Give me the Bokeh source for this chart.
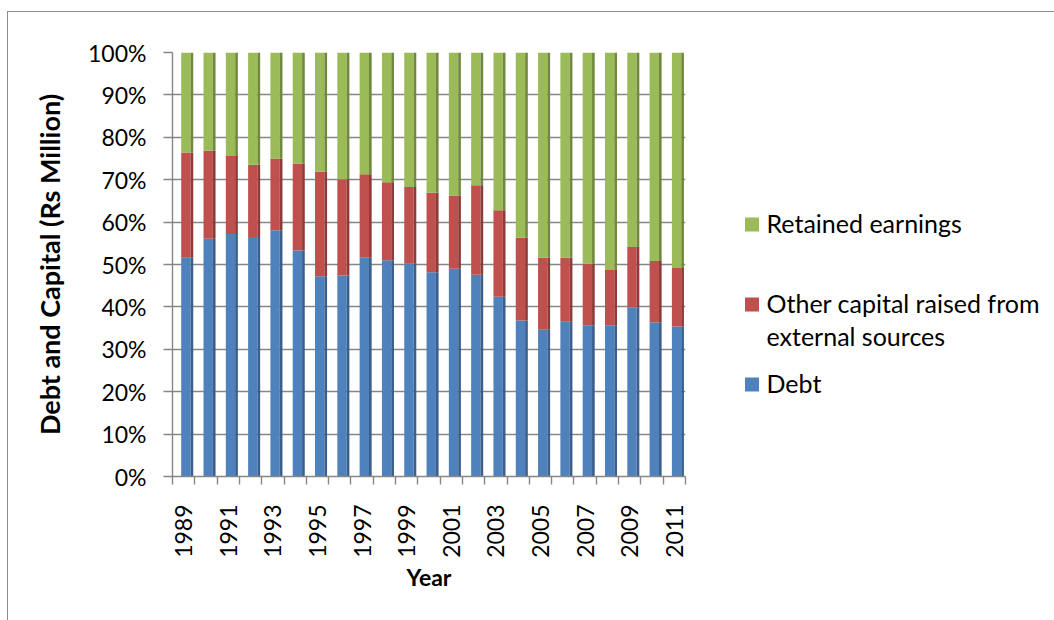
from math import pi
from bokeh.plotting import figure
from bokeh.layouts import row
from bokeh.models import Range1d, FixedTicker, PrintfTickFormatter, ColumnDataSource
from bokeh.transform import dodge
from bokeh.core.properties import value
from bokeh.embed import file_html
from bokeh.resources import INLINE

# ---------------- data (shares of total, %) ----------------
years = [1989, 1990, 1991, 1992, 1993, 1994, 1995, 1996, 1997, 1998, 1999, 2000,
         2001, 2002, 2003, 2004, 2005, 2006, 2007, 2008, 2009, 2010, 2011]
debt = [51.6, 56.1, 57.2, 56.5, 58.1, 53.3, 47.2, 47.4, 51.6, 51.0, 50.2, 48.2,
        49.0, 47.6, 42.4, 36.8, 34.6, 36.5, 35.7, 35.7, 39.9, 36.4, 35.4]
other_capital = [24.8, 20.7, 18.4, 17.0, 16.9, 20.5, 24.7, 22.7, 19.7, 18.4, 18.1, 18.7,
                 17.3, 21.1, 20.4, 19.5, 17.0, 15.1, 14.5, 13.0, 14.2, 14.4, 13.8]
retained = [23.6, 23.2, 24.4, 26.5, 25.0, 26.2, 28.1, 29.9, 28.7, 30.6, 31.7, 33.1,
            33.7, 31.3, 37.2, 43.7, 48.4, 48.4, 49.8, 51.3, 45.9, 49.2, 50.8]
series_names = ["Debt", "Other capital raised from\nexternal sources", "Retained earnings"]
y_ticks = [0, 10, 20, 30, 40, 50, 60, 70, 80, 90, 100]
label_years = [y for y in years if y % 2 == 1]

FONT = "Lato"
FS = "23px"
GRID = "#868686"
front_colors = ["#4F81BD", "#C0504D", "#9BBB59"]
side_colors = ["#3A5F8C", "#8E3A38", "#71893F"]

src = ColumnDataSource(dict(year=years, debt=debt, other=other_capital, retained=retained))
stack = ["debt", "other", "retained"]

TOP, BOTTOM = 40, 144

p = figure(width=692, height=608,
           x_range=Range1d(years[0] - 0.5, years[-1] + 0.5),
           y_range=Range1d(0, 100),
           output_backend="svg", toolbar_location=None,
           min_border_left=164, min_border_right=15,
           min_border_top=TOP, min_border_bottom=BOTTOM)
p.outline_line_color = None
p.background_fill_color = "white"
p.border_fill_color = "white"

# bars: front faces and darker side faces (pseudo-3D look)
p.vbar_stack(stack, x=dodge("year", 0.10, range=p.x_range), width=0.42,
             color=front_colors, line_color=None, source=src)
p.vbar_stack(stack, x=dodge("year", 0.37, range=p.x_range), width=0.12,
             color=side_colors, line_color=None, source=src)

# grid
p.xgrid.visible = False
p.ygrid.ticker = FixedTicker(ticks=y_ticks)
p.ygrid.grid_line_color = GRID
p.ygrid.grid_line_width = 1.4
p.ygrid.level = "underlay"

# y axis
ya = p.yaxis[0]
ya.ticker = FixedTicker(ticks=y_ticks)
ya.formatter = PrintfTickFormatter(format="%d%%")
ya.axis_line_color = GRID
ya.axis_line_width = 1.4
ya.major_tick_line_color = GRID
ya.major_tick_line_width = 1.4
ya.major_tick_out = 9
ya.major_tick_in = 0
ya.minor_tick_line_color = None
ya.major_label_standoff = 17
ya.major_label_text_font = FONT
ya.major_label_text_font_size = FS
ya.major_label_text_color = "black"
ya.axis_label = "Debt and Capital (Rs Million)"
ya.axis_label_text_font = FONT
ya.axis_label_text_font_size = "27px"
ya.axis_label_text_font_style = "bold"
ya.axis_label_text_color = "black"
ya.axis_label_standoff = 19

# x axis
boundaries = [y - 0.5 for y in years] + [years[-1] + 0.5]
xa = p.xaxis[0]
xa.ticker = FixedTicker(ticks=label_years, minor_ticks=boundaries)
xa.formatter = PrintfTickFormatter(format="%d")
xa.axis_line_color = GRID
xa.axis_line_width = 1.4
xa.major_tick_line_color = None
xa.major_tick_out = 0
xa.major_tick_in = 0
xa.minor_tick_line_color = GRID
xa.minor_tick_line_width = 1.4
xa.minor_tick_out = 8
xa.minor_tick_in = 0
xa.major_label_orientation = pi / 2
xa.major_label_standoff = 20
xa.major_label_text_font = FONT
xa.major_label_text_font_size = FS
xa.major_label_text_color = "black"
xa.axis_label = "Year"
xa.axis_label_text_font = FONT
xa.axis_label_text_font_size = FS
xa.axis_label_text_font_style = "bold"
xa.axis_label_text_color = "black"
xa.axis_label_standoff = 2

# ---------------- legend panel (frame aligned with main frame; page pixel coords) ----------------
lg = figure(width=354, height=608, x_range=Range1d(700, 1054), y_range=Range1d(476, 52),
            output_backend="svg", toolbar_location=None,
            x_axis_location=None, y_axis_location=None,
            min_border_left=0, min_border_right=0,
            min_border_top=TOP, min_border_bottom=BOTTOM)
lg.outline_line_color = None
lg.xgrid.visible = False
lg.ygrid.visible = False
lg.background_fill_color = "white"
lg.border_fill_color = "white"

legend_order = [2, 1, 0]          # Retained, Other, Debt (top to bottom)
legend_square_y = [224, 304, 384]
line_step = 33
sq_x, sq_y, sq_c = [], [], []
tx, ty, tt = [], [], []
for idx, yy in zip(legend_order, legend_square_y):
    sq_x.append(751.5)
    sq_y.append(yy)
    sq_c.append(front_colors[idx])
    for k, line in enumerate(series_names[idx].split("\n")):
        tx.append(766)
        ty.append(yy - 2 + k * line_step)
        tt.append(line)
lg.rect(x=sq_x, y=sq_y, width=14, height=14, color=sq_c, line_color=None)
lg.text(x=tx, y=ty, text=tt, text_font=value(FONT), text_font_size="25px",
        text_baseline="middle", text_align="left", text_color="black")

layout = row(p, lg, styles={"border-left": "1px solid #8c8c8c",
                            "border-top": "1px solid #8c8c8c",
                            "margin-left": "7px", "margin-top": "11px"})

open("out.html", "w").write(file_html(layout, INLINE))
